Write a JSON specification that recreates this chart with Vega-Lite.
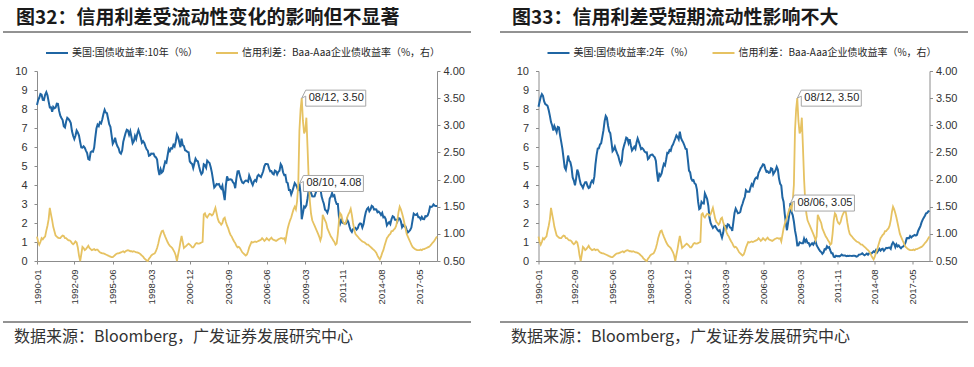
{
"$schema": "https://vega.github.io/schema/vega-lite/v6.json",
"background": "#ffffff",
"padding": {"left": 2, "top": 9, "right": 5, "bottom": 5},
"config": {"view": {"stroke": null}, "axis": {"grid": false, "labelFont": "Liberation Sans", "labelOverlap": false},
  "axisX": {"labelOverlap": false, "labelFlush": false, "labelAngle": -90, "labelAlign": "right", "labelBaseline": "middle", "labelFontSize": 9.5, "labelColor": "#333333", "labelPadding": 5, "tickSize": 3, "tickColor": "#8c8c8c", "domainColor": "#8c8c8c", "tickCount": 50}},
"datasets": {"ts": [
{"d":"1990-01","a":8.21,"b":8.12,"s":0.95},{"d":"1990-02","a":8.47,"b":8.39,"s":0.85},{"d":"1990-03","a":8.59,"b":8.63,"s":0.80},{"d":"1990-04","a":8.79,"b":8.78,"s":0.85},{"d":"1990-05","a":8.76,"b":8.69,"s":0.92},{"d":"1990-06","a":8.48,"b":8.40,"s":0.90},{"d":"1990-07","a":8.47,"b":8.26,"s":0.93},{"d":"1990-08","a":8.75,"b":8.22,"s":0.95},{"d":"1990-09","a":8.89,"b":8.16,"s":1.06},{"d":"1990-10","a":8.72,"b":7.93,"s":1.15},{"d":"1990-11","a":8.39,"b":7.64,"s":1.27},{"d":"1990-12","a":8.08,"b":7.31,"s":1.48},
{"d":"1991-01","a":8.09,"b":7.13,"s":1.36},{"d":"1991-02","a":7.85,"b":6.87,"s":1.25},{"d":"1991-03","a":8.11,"b":7.10,"s":1.13},{"d":"1991-04","a":8.04,"b":6.95,"s":1.05},{"d":"1991-05","a":8.07,"b":6.78,"s":0.97},{"d":"1991-06","a":8.28,"b":7.06,"s":0.95},{"d":"1991-07","a":8.27,"b":7.03,"s":0.93},{"d":"1991-08","a":7.90,"b":6.60,"s":0.92},{"d":"1991-09","a":7.65,"b":6.26,"s":0.92},{"d":"1991-10","a":7.53,"b":5.90,"s":0.95},{"d":"1991-11","a":7.42,"b":5.42,"s":0.97},{"d":"1991-12","a":7.09,"b":4.92,"s":0.96},
{"d":"1992-01","a":7.03,"b":4.80,"s":0.92},{"d":"1992-02","a":7.34,"b":5.15,"s":0.92},{"d":"1992-03","a":7.54,"b":5.55,"s":0.90},{"d":"1992-04","a":7.48,"b":5.28,"s":0.88},{"d":"1992-05","a":7.39,"b":5.20,"s":0.88},{"d":"1992-06","a":7.26,"b":4.92,"s":0.86},{"d":"1992-07","a":6.84,"b":4.40,"s":0.83},{"d":"1992-08","a":6.59,"b":4.23,"s":0.81},{"d":"1992-09","a":6.42,"b":3.98,"s":0.83},{"d":"1992-10","a":6.59,"b":4.34,"s":0.86},{"d":"1992-11","a":6.87,"b":4.81,"s":0.84},{"d":"1992-12","a":6.77,"b":4.64,"s":0.75},
{"d":"1993-01","a":6.60,"b":4.31,"s":0.60},{"d":"1993-02","a":6.26,"b":4.05,"s":0.50},{"d":"1993-03","a":5.98,"b":3.97,"s":0.62},{"d":"1993-04","a":5.97,"b":3.85,"s":0.76},{"d":"1993-05","a":6.04,"b":4.02,"s":0.74},{"d":"1993-06","a":5.96,"b":4.15,"s":0.70},{"d":"1993-07","a":5.81,"b":4.15,"s":0.72},{"d":"1993-08","a":5.68,"b":3.96,"s":0.75},{"d":"1993-09","a":5.36,"b":3.84,"s":0.78},{"d":"1993-10","a":5.33,"b":3.88,"s":0.74},{"d":"1993-11","a":5.72,"b":4.12,"s":0.72},{"d":"1993-12","a":5.77,"b":4.23,"s":0.70},
{"d":"1994-01","a":5.75,"b":4.14,"s":0.71},{"d":"1994-02","a":5.97,"b":4.45,"s":0.72},{"d":"1994-03","a":6.48,"b":5.07,"s":0.70},{"d":"1994-04","a":6.97,"b":5.57,"s":0.71},{"d":"1994-05","a":7.18,"b":5.92,"s":0.71},{"d":"1994-06","a":7.10,"b":5.93,"s":0.68},{"d":"1994-07","a":7.30,"b":6.13,"s":0.66},{"d":"1994-08","a":7.24,"b":6.20,"s":0.65},{"d":"1994-09","a":7.46,"b":6.53,"s":0.64},{"d":"1994-10","a":7.74,"b":6.87,"s":0.64},{"d":"1994-11","a":7.96,"b":7.36,"s":0.63},{"d":"1994-12","a":7.81,"b":7.64,"s":0.62},
{"d":"1995-01","a":7.78,"b":7.54,"s":0.61},{"d":"1995-02","a":7.47,"b":7.12,"s":0.60},{"d":"1995-03","a":7.20,"b":6.83,"s":0.59},{"d":"1995-04","a":7.06,"b":6.73,"s":0.58},{"d":"1995-05","a":6.63,"b":6.30,"s":0.57},{"d":"1995-06","a":6.17,"b":5.78,"s":0.57},{"d":"1995-07","a":6.28,"b":5.86,"s":0.59},{"d":"1995-08","a":6.49,"b":6.02,"s":0.61},{"d":"1995-09","a":6.20,"b":5.82,"s":0.63},{"d":"1995-10","a":6.04,"b":5.66,"s":0.64},{"d":"1995-11","a":5.93,"b":5.52,"s":0.64},{"d":"1995-12","a":5.71,"b":5.29,"s":0.65},
{"d":"1996-01","a":5.65,"b":5.09,"s":0.66},{"d":"1996-02","a":5.81,"b":5.24,"s":0.67},{"d":"1996-03","a":6.27,"b":5.82,"s":0.68},{"d":"1996-04","a":6.51,"b":6.06,"s":0.66},{"d":"1996-05","a":6.74,"b":6.26,"s":0.68},{"d":"1996-06","a":6.91,"b":6.49,"s":0.69},{"d":"1996-07","a":6.87,"b":6.45,"s":0.70},{"d":"1996-08","a":6.64,"b":6.21,"s":0.69},{"d":"1996-09","a":6.83,"b":6.41,"s":0.68},{"d":"1996-10","a":6.53,"b":6.08,"s":0.68},{"d":"1996-11","a":6.20,"b":5.82,"s":0.67},{"d":"1996-12","a":6.30,"b":5.91,"s":0.68},
{"d":"1997-01","a":6.58,"b":6.01,"s":0.67},{"d":"1997-02","a":6.42,"b":5.90,"s":0.66},{"d":"1997-03","a":6.69,"b":6.22,"s":0.66},{"d":"1997-04","a":6.89,"b":6.45,"s":0.65},{"d":"1997-05","a":6.71,"b":6.28,"s":0.64},{"d":"1997-06","a":6.49,"b":6.09,"s":0.62},{"d":"1997-07","a":6.22,"b":5.89,"s":0.60},{"d":"1997-08","a":6.30,"b":5.94,"s":0.58},{"d":"1997-09","a":6.21,"b":5.88,"s":0.55},{"d":"1997-10","a":6.03,"b":5.77,"s":0.53},{"d":"1997-11","a":5.88,"b":5.71,"s":0.51},{"d":"1997-12","a":5.81,"b":5.72,"s":0.50},
{"d":"1998-01","a":5.54,"b":5.36,"s":0.54},{"d":"1998-02","a":5.57,"b":5.42,"s":0.57},{"d":"1998-03","a":5.65,"b":5.56,"s":0.60},{"d":"1998-04","a":5.64,"b":5.59,"s":0.62},{"d":"1998-05","a":5.65,"b":5.60,"s":0.63},{"d":"1998-06","a":5.50,"b":5.52,"s":0.64},{"d":"1998-07","a":5.46,"b":5.46,"s":0.68},{"d":"1998-08","a":5.34,"b":5.27,"s":0.74},{"d":"1998-09","a":4.81,"b":4.62,"s":0.82},{"d":"1998-10","a":4.53,"b":4.18,"s":0.92},{"d":"1998-11","a":4.83,"b":4.57,"s":0.99},{"d":"1998-12","a":4.65,"b":4.48,"s":1.05},
{"d":"1999-01","a":4.72,"b":4.61,"s":1.06},{"d":"1999-02","a":5.00,"b":4.90,"s":1.00},{"d":"1999-03","a":5.23,"b":5.11,"s":0.95},{"d":"1999-04","a":5.18,"b":5.03,"s":0.90},{"d":"1999-05","a":5.54,"b":5.33,"s":0.85},{"d":"1999-06","a":5.90,"b":5.70,"s":0.81},{"d":"1999-07","a":5.79,"b":5.68,"s":0.78},{"d":"1999-08","a":5.94,"b":5.84,"s":0.76},{"d":"1999-09","a":5.92,"b":5.80,"s":0.74},{"d":"1999-10","a":6.11,"b":6.03,"s":0.70},{"d":"1999-11","a":6.03,"b":6.13,"s":0.66},{"d":"1999-12","a":6.28,"b":6.29,"s":0.60},
{"d":"2000-01","a":6.66,"b":6.44,"s":0.50},{"d":"2000-02","a":6.52,"b":6.61,"s":0.62},{"d":"2000-03","a":6.26,"b":6.53,"s":0.72},{"d":"2000-04","a":5.99,"b":6.40,"s":0.85},{"d":"2000-05","a":6.44,"b":6.81,"s":0.96},{"d":"2000-06","a":6.10,"b":6.48,"s":0.85},{"d":"2000-07","a":6.05,"b":6.34,"s":0.74},{"d":"2000-08","a":5.83,"b":6.23,"s":0.76},{"d":"2000-09","a":5.80,"b":6.08,"s":0.78},{"d":"2000-10","a":5.74,"b":5.91,"s":0.80},{"d":"2000-11","a":5.72,"b":5.88,"s":0.82},{"d":"2000-12","a":5.24,"b":5.35,"s":0.80},
{"d":"2001-01","a":5.16,"b":4.76,"s":0.78},{"d":"2001-02","a":5.10,"b":4.66,"s":0.75},{"d":"2001-03","a":4.89,"b":4.34,"s":0.75},{"d":"2001-04","a":5.14,"b":4.23,"s":0.78},{"d":"2001-05","a":5.39,"b":4.26,"s":0.82},{"d":"2001-06","a":5.28,"b":4.08,"s":0.83},{"d":"2001-07","a":5.24,"b":4.04,"s":0.82},{"d":"2001-08","a":4.97,"b":3.76,"s":0.82},{"d":"2001-09","a":4.73,"b":3.12,"s":0.83},{"d":"2001-10","a":4.57,"b":2.73,"s":0.84},{"d":"2001-11","a":4.65,"b":2.78,"s":0.85},{"d":"2001-12","a":5.09,"b":3.11,"s":1.36},
{"d":"2002-01","a":5.04,"b":3.03,"s":1.38},{"d":"2002-02","a":4.91,"b":3.02,"s":1.32},{"d":"2002-03","a":5.28,"b":3.56,"s":1.30},{"d":"2002-04","a":5.21,"b":3.42,"s":1.34},{"d":"2002-05","a":5.16,"b":3.26,"s":1.37},{"d":"2002-06","a":4.93,"b":2.91,"s":1.36},{"d":"2002-07","a":4.65,"b":2.29,"s":1.34},{"d":"2002-08","a":4.26,"b":2.00,"s":1.36},{"d":"2002-09","a":3.87,"b":1.86,"s":1.42},{"d":"2002-10","a":3.94,"b":1.74,"s":1.48},{"d":"2002-11","a":4.05,"b":1.82,"s":1.38},{"d":"2002-12","a":4.03,"b":1.84,"s":1.28},
{"d":"2003-01","a":4.05,"b":1.74,"s":1.22},{"d":"2003-02","a":3.90,"b":1.63,"s":1.20},{"d":"2003-03","a":3.81,"b":1.57,"s":1.17},{"d":"2003-04","a":3.96,"b":1.62,"s":1.20},{"d":"2003-05","a":3.57,"b":1.42,"s":1.28},{"d":"2003-06","a":3.20,"b":1.23,"s":1.30},{"d":"2003-07","a":3.98,"b":1.47,"s":1.22},{"d":"2003-08","a":4.45,"b":1.86,"s":1.15},{"d":"2003-09","a":4.27,"b":1.85,"s":1.10},{"d":"2003-10","a":4.29,"b":1.71,"s":1.03},{"d":"2003-11","a":4.30,"b":1.93,"s":0.98},{"d":"2003-12","a":4.27,"b":1.91,"s":0.95},
{"d":"2004-01","a":4.15,"b":1.76,"s":0.90},{"d":"2004-02","a":4.08,"b":1.74,"s":0.86},{"d":"2004-03","a":3.83,"b":1.58,"s":0.83},{"d":"2004-04","a":4.35,"b":2.07,"s":0.78},{"d":"2004-05","a":4.72,"b":2.53,"s":0.75},{"d":"2004-06","a":4.73,"b":2.76,"s":0.76},{"d":"2004-07","a":4.50,"b":2.64,"s":0.74},{"d":"2004-08","a":4.28,"b":2.51,"s":0.70},{"d":"2004-09","a":4.13,"b":2.53,"s":0.66},{"d":"2004-10","a":4.10,"b":2.58,"s":0.64},{"d":"2004-11","a":4.19,"b":2.85,"s":0.62},{"d":"2004-12","a":4.23,"b":3.01,"s":0.60},
{"d":"2005-01","a":4.22,"b":3.22,"s":0.62},{"d":"2005-02","a":4.17,"b":3.38,"s":0.68},{"d":"2005-03","a":4.50,"b":3.73,"s":0.75},{"d":"2005-04","a":4.34,"b":3.65,"s":0.80},{"d":"2005-05","a":4.14,"b":3.64,"s":0.85},{"d":"2005-06","a":4.00,"b":3.64,"s":0.84},{"d":"2005-07","a":4.18,"b":3.87,"s":0.85},{"d":"2005-08","a":4.26,"b":4.04,"s":0.86},{"d":"2005-09","a":4.20,"b":3.95,"s":0.85},{"d":"2005-10","a":4.46,"b":4.17,"s":0.86},{"d":"2005-11","a":4.54,"b":4.33,"s":0.87},{"d":"2005-12","a":4.47,"b":4.39,"s":0.88},
{"d":"2006-01","a":4.42,"b":4.35,"s":0.89},{"d":"2006-02","a":4.57,"b":4.64,"s":0.92},{"d":"2006-03","a":4.72,"b":4.74,"s":0.90},{"d":"2006-04","a":4.99,"b":4.89,"s":0.87},{"d":"2006-05","a":5.11,"b":4.97,"s":0.89},{"d":"2006-06","a":5.11,"b":5.09,"s":0.92},{"d":"2006-07","a":5.09,"b":5.07,"s":0.90},{"d":"2006-08","a":4.88,"b":4.85,"s":0.88},{"d":"2006-09","a":4.72,"b":4.69,"s":0.91},{"d":"2006-10","a":4.73,"b":4.72,"s":0.93},{"d":"2006-11","a":4.60,"b":4.64,"s":0.90},{"d":"2006-12","a":4.56,"b":4.66,"s":0.89},
{"d":"2007-01","a":4.76,"b":4.88,"s":0.88},{"d":"2007-02","a":4.72,"b":4.85,"s":0.87},{"d":"2007-03","a":4.56,"b":4.57,"s":0.88},{"d":"2007-04","a":4.69,"b":4.67,"s":0.90},{"d":"2007-05","a":4.75,"b":4.77,"s":0.91},{"d":"2007-06","a":5.10,"b":4.96,"s":0.92},{"d":"2007-07","a":5.00,"b":4.82,"s":0.92},{"d":"2007-08","a":4.67,"b":4.34,"s":0.91},{"d":"2007-09","a":4.52,"b":4.06,"s":0.92},{"d":"2007-10","a":4.53,"b":3.97,"s":0.86},{"d":"2007-11","a":4.15,"b":3.34,"s":0.98},{"d":"2007-12","a":4.10,"b":3.12,"s":1.10},
{"d":"2008-01","a":3.74,"b":2.48,"s":1.18},{"d":"2008-02","a":3.74,"b":1.97,"s":1.25},{"d":"2008-03","a":3.51,"b":1.62,"s":1.30},{"d":"2008-04","a":3.68,"b":2.05,"s":1.38},{"d":"2008-05","a":3.88,"b":2.45,"s":1.45},{"d":"2008-06","a":4.10,"b":3.05,"s":1.50},{"d":"2008-07","a":4.01,"b":2.57,"s":1.45},{"d":"2008-08","a":3.89,"b":2.42,"s":1.60},{"d":"2008-09","a":3.69,"b":2.08,"s":1.90},{"d":"2008-10","a":4.08,"b":1.61,"s":2.90},{"d":"2008-11","a":3.53,"b":1.29,"s":3.30},{"d":"2008-12","a":2.20,"b":0.82,"s":3.50},
{"d":"2009-01","a":2.52,"b":0.83,"s":3.08},{"d":"2009-02","a":2.87,"b":0.98,"s":2.85},{"d":"2009-03","a":2.82,"b":0.95,"s":2.90},{"d":"2009-04","a":2.93,"b":0.93,"s":3.14},{"d":"2009-05","a":3.29,"b":0.93,"s":2.60},{"d":"2009-06","a":3.72,"b":1.18,"s":2.00},{"d":"2009-07","a":3.56,"b":1.02,"s":1.60},{"d":"2009-08","a":3.59,"b":1.12,"s":1.37},{"d":"2009-09","a":3.40,"b":0.96,"s":1.25},{"d":"2009-10","a":3.39,"b":0.95,"s":1.20},{"d":"2009-11","a":3.40,"b":0.80,"s":1.15},{"d":"2009-12","a":3.59,"b":0.87,"s":1.10},
{"d":"2010-01","a":3.73,"b":0.93,"s":1.05},{"d":"2010-02","a":3.69,"b":0.86,"s":1.00},{"d":"2010-03","a":3.73,"b":0.96,"s":0.95},{"d":"2010-04","a":3.85,"b":1.06,"s":0.88},{"d":"2010-05","a":3.42,"b":0.83,"s":0.95},{"d":"2010-06","a":3.20,"b":0.72,"s":1.35},{"d":"2010-07","a":3.01,"b":0.62,"s":1.30},{"d":"2010-08","a":2.70,"b":0.52,"s":1.25},{"d":"2010-09","a":2.65,"b":0.47,"s":1.20},{"d":"2010-10","a":2.54,"b":0.38,"s":1.10},{"d":"2010-11","a":2.76,"b":0.45,"s":1.05},{"d":"2010-12","a":3.29,"b":0.62,"s":1.00},
{"d":"2011-01","a":3.39,"b":0.61,"s":0.95},{"d":"2011-02","a":3.58,"b":0.77,"s":0.92},{"d":"2011-03","a":3.41,"b":0.70,"s":0.88},{"d":"2011-04","a":3.46,"b":0.73,"s":0.85},{"d":"2011-05","a":3.17,"b":0.56,"s":0.80},{"d":"2011-06","a":3.00,"b":0.41,"s":0.82},{"d":"2011-07","a":3.00,"b":0.41,"s":1.00},{"d":"2011-08","a":2.30,"b":0.23,"s":1.25},{"d":"2011-09","a":1.98,"b":0.21,"s":1.38},{"d":"2011-10","a":2.15,"b":0.28,"s":1.35},{"d":"2011-11","a":2.01,"b":0.25,"s":1.25},{"d":"2011-12","a":1.98,"b":0.26,"s":1.20},
{"d":"2012-01","a":1.97,"b":0.24,"s":1.18},{"d":"2012-02","a":1.97,"b":0.28,"s":1.22},{"d":"2012-03","a":2.17,"b":0.34,"s":1.30},{"d":"2012-04","a":2.05,"b":0.29,"s":1.36},{"d":"2012-05","a":1.80,"b":0.29,"s":1.40},{"d":"2012-06","a":1.62,"b":0.29,"s":1.46},{"d":"2012-07","a":1.53,"b":0.25,"s":1.35},{"d":"2012-08","a":1.68,"b":0.27,"s":1.20},{"d":"2012-09","a":1.72,"b":0.26,"s":1.08},{"d":"2012-10","a":1.75,"b":0.28,"s":1.00},{"d":"2012-11","a":1.65,"b":0.27,"s":0.97},{"d":"2012-12","a":1.72,"b":0.26,"s":0.95},
{"d":"2013-01","a":1.91,"b":0.27,"s":0.92},{"d":"2013-02","a":1.98,"b":0.27,"s":0.90},{"d":"2013-03","a":1.96,"b":0.26,"s":0.88},{"d":"2013-04","a":1.76,"b":0.23,"s":0.86},{"d":"2013-05","a":1.93,"b":0.25,"s":0.85},{"d":"2013-06","a":2.30,"b":0.33,"s":0.84},{"d":"2013-07","a":2.58,"b":0.34,"s":0.82},{"d":"2013-08","a":2.74,"b":0.36,"s":0.80},{"d":"2013-09","a":2.81,"b":0.40,"s":0.80},{"d":"2013-10","a":2.62,"b":0.34,"s":0.78},{"d":"2013-11","a":2.72,"b":0.30,"s":0.76},{"d":"2013-12","a":2.90,"b":0.34,"s":0.74},
{"d":"2014-01","a":2.86,"b":0.39,"s":0.72},{"d":"2014-02","a":2.71,"b":0.33,"s":0.70},{"d":"2014-03","a":2.72,"b":0.40,"s":0.68},{"d":"2014-04","a":2.71,"b":0.42,"s":0.65},{"d":"2014-05","a":2.56,"b":0.39,"s":0.60},{"d":"2014-06","a":2.60,"b":0.45,"s":0.56},{"d":"2014-07","a":2.54,"b":0.51,"s":0.53},{"d":"2014-08","a":2.42,"b":0.47,"s":0.58},{"d":"2014-09","a":2.53,"b":0.57,"s":0.65},{"d":"2014-10","a":2.30,"b":0.45,"s":0.70},{"d":"2014-11","a":2.33,"b":0.54,"s":0.78},{"d":"2014-12","a":2.21,"b":0.64,"s":0.85},
{"d":"2015-01","a":1.88,"b":0.55,"s":0.92},{"d":"2015-02","a":1.98,"b":0.62,"s":0.95},{"d":"2015-03","a":2.04,"b":0.64,"s":0.98},{"d":"2015-04","a":1.94,"b":0.54,"s":1.00},{"d":"2015-05","a":2.20,"b":0.61,"s":1.05},{"d":"2015-06","a":2.36,"b":0.69,"s":1.05},{"d":"2015-07","a":2.32,"b":0.67,"s":1.08},{"d":"2015-08","a":2.17,"b":0.70,"s":1.10},{"d":"2015-09","a":2.17,"b":0.71,"s":1.15},{"d":"2015-10","a":2.07,"b":0.64,"s":1.25},{"d":"2015-11","a":2.26,"b":0.88,"s":1.40},{"d":"2015-12","a":2.24,"b":0.98,"s":1.50},
{"d":"2016-01","a":2.09,"b":0.90,"s":1.45},{"d":"2016-02","a":1.78,"b":0.73,"s":1.38},{"d":"2016-03","a":1.89,"b":0.88,"s":1.30},{"d":"2016-04","a":1.81,"b":0.77,"s":1.20},{"d":"2016-05","a":1.81,"b":0.82,"s":1.10},{"d":"2016-06","a":1.64,"b":0.73,"s":1.00},{"d":"2016-07","a":1.50,"b":0.67,"s":0.95},{"d":"2016-08","a":1.56,"b":0.74,"s":0.90},{"d":"2016-09","a":1.63,"b":0.77,"s":0.85},{"d":"2016-10","a":1.76,"b":0.84,"s":0.80},{"d":"2016-11","a":2.14,"b":0.98,"s":0.76},{"d":"2016-12","a":2.49,"b":1.20,"s":0.74},
{"d":"2017-01","a":2.43,"b":1.21,"s":0.72},{"d":"2017-02","a":2.42,"b":1.20,"s":0.71},{"d":"2017-03","a":2.48,"b":1.31,"s":0.70},{"d":"2017-04","a":2.30,"b":1.24,"s":0.70},{"d":"2017-05","a":2.30,"b":1.30,"s":0.70},{"d":"2017-06","a":2.19,"b":1.34,"s":0.71},{"d":"2017-07","a":2.32,"b":1.37,"s":0.70},{"d":"2017-08","a":2.21,"b":1.34,"s":0.72},{"d":"2017-09","a":2.20,"b":1.38,"s":0.72},{"d":"2017-10","a":2.36,"b":1.58,"s":0.73},{"d":"2017-11","a":2.35,"b":1.71,"s":0.74},{"d":"2017-12","a":2.40,"b":1.84,"s":0.75},
{"d":"2018-01","a":2.58,"b":2.03,"s":0.76},{"d":"2018-02","a":2.86,"b":2.18,"s":0.78},{"d":"2018-03","a":2.84,"b":2.28,"s":0.80},{"d":"2018-04","a":2.87,"b":2.38,"s":0.83},{"d":"2018-05","a":2.98,"b":2.51,"s":0.85},{"d":"2018-06","a":2.91,"b":2.53,"s":0.88},{"d":"2018-07","a":2.89,"b":2.61,"s":0.92},{"d":"2018-08","a":2.89,"b":2.64,"s":0.95}
]},
"hconcat": [
{
"vconcat": [
{"width": 468, "height": 1, "data": {"values": [{"t": "图32：信用利差受流动性变化的影响但不显著"}]},
 "layer": [
  {"mark": {"type": "rule", "color": "#262626", "strokeWidth": 1},
   "encoding": {"y": {"datum": 0, "type": "quantitative", "scale": {"domain": [0, 1]}, "axis": null}}},
  {"mark": {"type": "text", "align": "left", "baseline": "alphabetic", "dx": 13, "dy": -8, "font": "Noto Sans CJK SC", "fontSize": 19, "fontWeight": "bold", "color": "#1a1a1a"},
   "encoding": {"x": {"datum": 0, "type": "quantitative", "scale": {"domain": [0, 1]}, "axis": null}, "y": {"datum": 0, "type": "quantitative", "axis": null}, "text": {"field": "t"}}}
 ]},
{"width": 400, "height": 190,
 "layer": [
   {"data": {"name": "ts"}, "mark": {"type": "line", "strokeWidth": 2},
    "encoding": {
     "x": {"field": "d", "type": "temporal", "scale": {"type": "utc", "domain": [{"year": 1990, "month": 1, "date": 1, "utc": true}, {"year": 2018, "month": 8, "date": 1, "utc": true}]},
       "axis": {"title": null, "values": [{"year":1990,"month":1,"date":1,"utc":true},{"year":1992,"month":9,"date":1,"utc":true},{"year":1995,"month":6,"date":1,"utc":true},{"year":1998,"month":3,"date":1,"utc":true},{"year":2000,"month":12,"date":1,"utc":true},{"year":2003,"month":9,"date":1,"utc":true},{"year":2006,"month":6,"date":1,"utc":true},{"year":2009,"month":3,"date":1,"utc":true},{"year":2011,"month":11,"date":1,"utc":true},{"year":2014,"month":8,"date":1,"utc":true},{"year":2017,"month":5,"date":1,"utc":true}],
        "format": "%Y-%m", "labelOverlap": false, "labelFontSize": 9.5, "tickCount": 50}},
     "y": {"field": "a", "type": "quantitative", "scale": {"domain": [0, 10], "nice": false},
       "axis": {"orient": "left", "title": null, "values": [0,1,2,3,4,5,6,7,8,9,10], "labelFontSize": 11, "labelColor": "#333333", "labelPadding": 7, "tickSize": 3, "tickColor": "#8c8c8c", "domainColor": "#8c8c8c", "labelFlush": false}},
     "color": {"datum": "美国:国债收益率:10年（%）", "type": "nominal",
       "scale": {"domain": ["美国:国债收益率:10年（%）", "信用利差：Baa-Aaa企业债收益率（%，右）"], "range": ["#1f65a3", "#e6c262"]},
       "legend": {"orient": "none", "legendX": 8, "legendY": -30, "direction": "horizontal", "title": null, "symbolType": "stroke", "symbolSize": 484, "symbolStrokeWidth": 2, "labelFont": "Noto Sans CJK SC", "labelFontSize": 10, "labelColor": "#262626", "labelOffset": 3, "columnPadding": 14, "labelLimit": 300, "padding": 0}}}},
   {"data": {"name": "ts"}, "mark": {"type": "line", "strokeWidth": 1.8},
    "encoding": {
     "x": {"field": "d", "type": "temporal", "axis": {"title": null, "format": "%Y-%m", "labelOverlap": false, "labelFontSize": 9.5, "tickCount": 50}},
     "y": {"field": "s", "type": "quantitative", "scale": {"domain": [0.5, 4], "nice": false, "zero": false},
       "axis": {"orient": "right", "title": null, "values": [0.5,1,1.5,2,2.5,3,3.5,4], "format": ".2f", "labelFontSize": 11, "labelColor": "#333333", "labelPadding": 3, "tickSize": 3, "tickColor": "#8c8c8c", "domainColor": "#8c8c8c", "labelFlush": false}},
     "color": {"datum": "信用利差：Baa-Aaa企业债收益率（%，右）", "type": "nominal"}}},
   {"data": {"values": [{"d": "2008-10", "v": 4.08, "t": "08/10, 4.08"}]},
    "mark": {"type": "point", "shape": "M0,0 L4,-8 L64,-8 L64,8 L4,8 L4,-2 Z", "size": 4, "filled": true, "fill": "#ffffff", "stroke": "#a6a6a6", "strokeWidth": 1, "opacity": 1},
    "encoding": {"x": {"field": "d", "type": "temporal"}, "y": {"field": "v", "type": "quantitative", "scale": {"domain": [0, 10], "nice": false}, "axis": null}}},
   {"data": {"values": [{"d": "2008-10", "v": 4.08, "t": "08/10, 4.08"}]},
    "mark": {"type": "text", "align": "left", "baseline": "middle", "dx": 7, "fontSize": 11, "font": "Liberation Sans", "color": "#262626"},
    "encoding": {"x": {"field": "d", "type": "temporal"}, "y": {"field": "v", "type": "quantitative", "scale": {"domain": [0, 10], "nice": false}, "axis": null}, "text": {"field": "t"}}},
   {"data": {"values": [{"d": "2008-12", "v": 3.5, "t": "08/12, 3.50"}]},
    "mark": {"type": "point", "shape": "M0,0 L4,-8 L64,-8 L64,8 L4,8 L4,-2 Z", "size": 4, "filled": true, "fill": "#ffffff", "stroke": "#a6a6a6", "strokeWidth": 1, "opacity": 1},
    "encoding": {"x": {"field": "d", "type": "temporal"}, "y": {"field": "v", "type": "quantitative", "scale": {"domain": [0.5, 4], "nice": false, "zero": false}, "axis": null}}},
   {"data": {"values": [{"d": "2008-12", "v": 3.5, "t": "08/12, 3.50"}]},
    "mark": {"type": "text", "align": "left", "baseline": "middle", "dx": 7, "fontSize": 11, "font": "Liberation Sans", "color": "#262626"},
    "encoding": {"x": {"field": "d", "type": "temporal"}, "y": {"field": "v", "type": "quantitative", "scale": {"domain": [0.5, 4], "nice": false, "zero": false}, "axis": null}, "text": {"field": "t"}}}
 ],
 "resolve": {"scale": {"y": "independent"}}},
{"width": 468, "height": 22, "data": {"values": [{"t": "数据来源：Bloomberg，广发证券发展研究中心"}]},
 "layer": [
  {"mark": {"type": "rule", "color": "#262626", "strokeWidth": 1},
   "encoding": {"y": {"datum": 0, "type": "quantitative", "scale": {"domain": [0, 1]}, "axis": null}}},
  {"mark": {"type": "text", "align": "left", "baseline": "middle", "dx": 11, "dy": 15, "font": "Noto Sans CJK SC", "fontSize": 16, "color": "#333333"},
   "encoding": {"x": {"datum": 0, "type": "quantitative", "scale": {"domain": [0, 1]}, "axis": null}, "y": {"datum": 0, "type": "quantitative", "axis": null}, "text": {"field": "t"}}}
 ]}
],
"spacing": 39, "bounds": "flush", "center": true,
"resolve": {"scale": {"color": "independent"}}
},
{
"vconcat": [
{"width": 468, "height": 1, "data": {"values": [{"t": "图33：信用利差受短期流动性影响不大"}]},
 "layer": [
  {"mark": {"type": "rule", "color": "#262626", "strokeWidth": 1},
   "encoding": {"y": {"datum": 0, "type": "quantitative", "scale": {"domain": [0, 1]}, "axis": null}}},
  {"mark": {"type": "text", "align": "left", "baseline": "alphabetic", "dx": 12, "dy": -8, "font": "Noto Sans CJK SC", "fontSize": 19, "fontWeight": "bold", "color": "#1a1a1a"},
   "encoding": {"x": {"datum": 0, "type": "quantitative", "scale": {"domain": [0, 1]}, "axis": null}, "y": {"datum": 0, "type": "quantitative", "axis": null}, "text": {"field": "t"}}}
 ]},
{"width": 391, "height": 190,
 "layer": [
   {"data": {"name": "ts"}, "mark": {"type": "line", "strokeWidth": 2},
    "encoding": {
     "x": {"field": "d", "type": "temporal", "scale": {"type": "utc", "domain": [{"year": 1990, "month": 1, "date": 1, "utc": true}, {"year": 2018, "month": 8, "date": 1, "utc": true}]},
       "axis": {"title": null, "values": [{"year":1990,"month":1,"date":1,"utc":true},{"year":1992,"month":9,"date":1,"utc":true},{"year":1995,"month":6,"date":1,"utc":true},{"year":1998,"month":3,"date":1,"utc":true},{"year":2000,"month":12,"date":1,"utc":true},{"year":2003,"month":9,"date":1,"utc":true},{"year":2006,"month":6,"date":1,"utc":true},{"year":2009,"month":3,"date":1,"utc":true},{"year":2011,"month":11,"date":1,"utc":true},{"year":2014,"month":8,"date":1,"utc":true},{"year":2017,"month":5,"date":1,"utc":true}],
        "format": "%Y-%m", "labelOverlap": false, "labelFontSize": 9.5, "tickCount": 50}},
     "y": {"field": "b", "type": "quantitative", "scale": {"domain": [0, 10], "nice": false},
       "axis": {"orient": "left", "title": null, "values": [0,1,2,3,4,5,6,7,8,9,10], "labelFontSize": 11, "labelColor": "#333333", "labelPadding": 7, "tickSize": 3, "tickColor": "#8c8c8c", "domainColor": "#8c8c8c", "labelFlush": false}},
     "color": {"datum": "美国:国债收益率:2年（%）", "type": "nominal",
       "scale": {"domain": ["美国:国债收益率:2年（%）", "信用利差：Baa-Aaa企业债收益率（%，右）"], "range": ["#1f65a3", "#e6c262"]},
       "legend": {"orient": "none", "legendX": 8, "legendY": -30, "direction": "horizontal", "title": null, "symbolType": "stroke", "symbolSize": 484, "symbolStrokeWidth": 2, "labelFont": "Noto Sans CJK SC", "labelFontSize": 10, "labelColor": "#262626", "labelOffset": 3, "columnPadding": 14, "labelLimit": 300, "padding": 0}}}},
   {"data": {"name": "ts"}, "mark": {"type": "line", "strokeWidth": 1.8},
    "encoding": {
     "x": {"field": "d", "type": "temporal", "axis": {"title": null, "format": "%Y-%m", "labelOverlap": false, "labelFontSize": 9.5, "tickCount": 50}},
     "y": {"field": "s", "type": "quantitative", "scale": {"domain": [0.5, 4], "nice": false, "zero": false},
       "axis": {"orient": "right", "title": null, "values": [0.5,1,1.5,2,2.5,3,3.5,4], "format": ".2f", "labelFontSize": 11, "labelColor": "#333333", "labelPadding": 3, "tickSize": 3, "tickColor": "#8c8c8c", "domainColor": "#8c8c8c", "labelFlush": false}},
     "color": {"datum": "信用利差：Baa-Aaa企业债收益率（%，右）", "type": "nominal"}}},
   {"data": {"values": [{"d": "2008-06", "v": 3.05, "t": "08/06, 3.05"}]},
    "mark": {"type": "point", "shape": "M0,0 L4,-8 L64,-8 L64,8 L4,8 L4,-2 Z", "size": 4, "filled": true, "fill": "#ffffff", "stroke": "#a6a6a6", "strokeWidth": 1, "opacity": 1},
    "encoding": {"x": {"field": "d", "type": "temporal"}, "y": {"field": "v", "type": "quantitative", "scale": {"domain": [0, 10], "nice": false}, "axis": null}}},
   {"data": {"values": [{"d": "2008-06", "v": 3.05, "t": "08/06, 3.05"}]},
    "mark": {"type": "text", "align": "left", "baseline": "middle", "dx": 7, "fontSize": 11, "font": "Liberation Sans", "color": "#262626"},
    "encoding": {"x": {"field": "d", "type": "temporal"}, "y": {"field": "v", "type": "quantitative", "scale": {"domain": [0, 10], "nice": false}, "axis": null}, "text": {"field": "t"}}},
   {"data": {"values": [{"d": "2008-12", "v": 3.5, "t": "08/12, 3.50"}]},
    "mark": {"type": "point", "shape": "M0,0 L4,-8 L64,-8 L64,8 L4,8 L4,-2 Z", "size": 4, "filled": true, "fill": "#ffffff", "stroke": "#a6a6a6", "strokeWidth": 1, "opacity": 1},
    "encoding": {"x": {"field": "d", "type": "temporal"}, "y": {"field": "v", "type": "quantitative", "scale": {"domain": [0.5, 4], "nice": false, "zero": false}, "axis": null}}},
   {"data": {"values": [{"d": "2008-12", "v": 3.5, "t": "08/12, 3.50"}]},
    "mark": {"type": "text", "align": "left", "baseline": "middle", "dx": 7, "fontSize": 11, "font": "Liberation Sans", "color": "#262626"},
    "encoding": {"x": {"field": "d", "type": "temporal"}, "y": {"field": "v", "type": "quantitative", "scale": {"domain": [0.5, 4], "nice": false, "zero": false}, "axis": null}, "text": {"field": "t"}}}
 ],
 "resolve": {"scale": {"y": "independent"}}},
{"width": 468, "height": 22, "data": {"values": [{"t": "数据来源：Bloomberg，广发证券发展研究中心"}]},
 "layer": [
  {"mark": {"type": "rule", "color": "#262626", "strokeWidth": 1},
   "encoding": {"y": {"datum": 0, "type": "quantitative", "scale": {"domain": [0, 1]}, "axis": null}}},
  {"mark": {"type": "text", "align": "left", "baseline": "middle", "dx": 11, "dy": 15, "font": "Noto Sans CJK SC", "fontSize": 16, "color": "#333333"},
   "encoding": {"x": {"datum": 0, "type": "quantitative", "scale": {"domain": [0, 1]}, "axis": null}, "y": {"datum": 0, "type": "quantitative", "axis": null}, "text": {"field": "t"}}}
 ]}
],
"spacing": 39, "bounds": "flush", "center": true,
"resolve": {"scale": {"color": "independent"}}
}
],
"spacing": 27,
"resolve": {"scale": {"color": "independent"}}
}
